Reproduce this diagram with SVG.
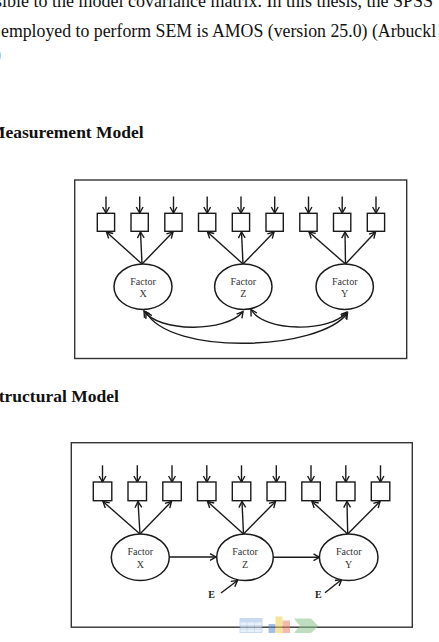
<svg xmlns="http://www.w3.org/2000/svg" width="439" height="642" viewBox="0 0 439 642">
<style>
.body{font-family:"Liberation Serif","Times New Roman",serif;font-size:17.8px;fill:#111}
.head{font-family:"Liberation Serif","Times New Roman",serif;font-size:17.5px;font-weight:bold;fill:#111}
.frame{fill:#fff;stroke:#333;stroke-width:1.4}
.sq{fill:#fff;stroke:#1a1a1a;stroke-width:1.4}
.el{fill:#fff;stroke:#1a1a1a;stroke-width:1.5}
.lbl{font-family:"Liberation Serif","Times New Roman",serif;font-size:10px;fill:#333;text-anchor:middle}
.e{font-family:"Liberation Serif","Times New Roman",serif;font-size:10px;font-weight:bold;fill:#222;text-anchor:middle}
.ar{fill:none;stroke:#1a1a1a;stroke-width:1.4;marker-end:url(#ah)}
.cv{fill:none;stroke:#1a1a1a;stroke-width:1.4;marker-end:url(#ah);marker-start:url(#ahs)}
</style>
<defs>
<marker id="ah" markerUnits="userSpaceOnUse" markerWidth="10" markerHeight="10" refX="7" refY="4" orient="auto">
<path d="M1,0.6 L7,4 L1,7.4" fill="none" stroke="#1a1a1a" stroke-width="1.4"/>
</marker>
<marker id="ahs" markerUnits="userSpaceOnUse" markerWidth="10" markerHeight="10" refX="1" refY="4" orient="auto">
<path d="M7,0.6 L1,4 L7,7.4" fill="none" stroke="#1a1a1a" stroke-width="1.4"/>
</marker>
</defs>
<rect width="439" height="642" fill="#fff"/>
<text class="body" x="-5" y="6.5" style="font-size:18px">sible to the model covariance matrix. In this thesis, the SPSS</text>
<text class="body" x="1" y="36.7">employed to perform SEM is AMOS (version 25.0) (Arbuckl</text>
<text class="body" x="-5" y="60">)</text>
<text class="head" x="-11" y="137.5">Measurement Model</text>
<text class="head" x="-11" y="401.7">Structural Model</text>

<g id="measurement-model">
<rect class="frame" x="74.7" y="180" width="332" height="178.5"/>
<g id="connectors-1">
<path class="ar" d="M106,196.5 V213"/>
<path class="ar" d="M139.7,196.5 V213"/>
<path class="ar" d="M173.5,196.5 V213"/>
<path class="ar" d="M207.2,196.5 V213"/>
<path class="ar" d="M241,196.5 V213"/>
<path class="ar" d="M274.7,196.5 V213"/>
<path class="ar" d="M308.5,196.5 V213"/>
<path class="ar" d="M342.2,196.5 V213"/>
<path class="ar" d="M376,196.5 V213"/>
<path class="ar" d="M142,264 L106.5,232"/>
<path class="ar" d="M142,264 L140.5,232"/>
<path class="ar" d="M142,264 L173,232"/>
<path class="ar" d="M243,264 L207.5,232"/>
<path class="ar" d="M243,264 L241.5,232"/>
<path class="ar" d="M243,264 L274,232"/>
<path class="ar" d="M345.5,264 L309,232"/>
<path class="ar" d="M345.5,264 L345,232"/>
<path class="ar" d="M345.5,264 L375.5,232"/>
<path class="cv" d="M144,311 C158,332 226,333 243,311.5"/>
<path class="cv" d="M146,312 C170,356 320,351 347.5,313"/>
<path class="cv" d="M251,309.5 C264,332 330,333 347,312"/>
</g>
<g id="m-ind">
<rect class="sq" x="97.3" y="213.3" width="17.3" height="18"/>
<rect class="sq" x="131" y="213.3" width="17.3" height="18"/>
<rect class="sq" x="164.8" y="213.3" width="17.3" height="18"/>
<rect class="sq" x="198.5" y="213.3" width="17.3" height="18"/>
<rect class="sq" x="232.3" y="213.3" width="17.3" height="18"/>
<rect class="sq" x="266" y="213.3" width="17.3" height="18"/>
<rect class="sq" x="299.8" y="213.3" width="17.3" height="18"/>
<rect class="sq" x="333.5" y="213.3" width="17.3" height="18"/>
<rect class="sq" x="367.3" y="213.3" width="17.3" height="18"/>
</g>
<g id="m-factor-x"><ellipse class="el" cx="143" cy="286.7" rx="29" ry="22.7"/><text class="lbl" x="143" y="284.5">Factor</text><text class="lbl" x="143" y="297.3">X</text></g>
<g id="m-factor-z"><ellipse class="el" cx="243.3" cy="286.7" rx="28.7" ry="22.7"/><text class="lbl" x="243.3" y="284.5">Factor</text><text class="lbl" x="243.3" y="297.3">Z</text></g>
<g id="m-factor-y"><ellipse class="el" cx="344.7" cy="286.7" rx="28.7" ry="22.7"/><text class="lbl" x="344.7" y="284.5">Factor</text><text class="lbl" x="344.7" y="297.3">Y</text></g>
</g>

<g id="structural-model">
<rect class="frame" x="71.3" y="442.7" width="341" height="184.5"/>
<g id="connectors-2">
<path class="ar" d="M102.5,465.3 V482"/>
<path class="ar" d="M137.3,465.3 V482"/>
<path class="ar" d="M172,465.3 V482"/>
<path class="ar" d="M206.8,465.3 V482"/>
<path class="ar" d="M241.5,465.3 V482"/>
<path class="ar" d="M276.3,465.3 V482"/>
<path class="ar" d="M311,465.3 V482"/>
<path class="ar" d="M345.8,465.3 V482"/>
<path class="ar" d="M380.5,465.3 V482"/>
<path class="ar" d="M140,534 L103,501.5"/>
<path class="ar" d="M140,534 L138,501.5"/>
<path class="ar" d="M140,534 L171.5,501.5"/>
<path class="ar" d="M243.5,534 L207.5,501.5"/>
<path class="ar" d="M243.5,534 L242,501.5"/>
<path class="ar" d="M243.5,534 L275.5,501.5"/>
<path class="ar" d="M347.7,534 L312,501.5"/>
<path class="ar" d="M347.7,534 L347,501.5"/>
<path class="ar" d="M347.7,534 L380,501.5"/>
<path class="ar" d="M169.3,557 H216"/>
<path class="ar" d="M273.5,557.3 H319.5"/>
<path class="ar" d="M221,593 L237.5,580.5"/>
<path class="ar" d="M325,592.7 L341.7,579.5"/>
</g>
<g id="s-ind">
<rect class="sq" x="93.3" y="482" width="18.5" height="18.7"/>
<rect class="sq" x="128" y="482" width="18.5" height="18.7"/>
<rect class="sq" x="162.8" y="482" width="18.5" height="18.7"/>
<rect class="sq" x="197.5" y="482" width="18.5" height="18.7"/>
<rect class="sq" x="232.3" y="482" width="18.5" height="18.7"/>
<rect class="sq" x="267" y="482" width="18.5" height="18.7"/>
<rect class="sq" x="301.8" y="482" width="18.5" height="18.7"/>
<rect class="sq" x="336.5" y="482" width="18.5" height="18.7"/>
<rect class="sq" x="371.3" y="482" width="18.5" height="18.7"/>
</g>
<g id="s-factor-x"><ellipse class="el" cx="140.3" cy="557.3" rx="29" ry="23.3"/><text class="lbl" x="140.3" y="555">Factor</text><text class="lbl" x="140.3" y="567.5">X</text></g>
<g id="s-factor-z"><ellipse class="el" cx="245" cy="557.3" rx="28.3" ry="23.3"/><text class="lbl" x="245" y="555">Factor</text><text class="lbl" x="245" y="567.5">Z</text></g>
<g id="s-factor-y"><ellipse class="el" cx="348.7" cy="557.3" rx="29.3" ry="23.3"/><text class="lbl" x="348.7" y="555">Factor</text><text class="lbl" x="348.7" y="567.5">Y</text></g>
<g id="e-z"><text class="e" x="211.7" y="598.3">E</text></g>
<g id="e-y"><text class="e" x="318.3" y="598.3">E</text></g>
</g>

<g id="icons" opacity="0.55">
<rect x="240" y="618.5" width="22" height="14" fill="#d6e4f5" stroke="#8fb0dc" stroke-width="0.8"/>
<path d="M240,622 H262 M240,625.5 H262 M240,629 H262 M247,622 V632.5 M254.5,622 V632.5" stroke="#8fb0dc" stroke-width="0.6"/>
<rect x="240" y="618.5" width="22" height="3.5" fill="#9cbbe6"/>
<rect x="268.5" y="624" width="7" height="9" fill="#5b8fd0"/>
<rect x="275.5" y="616.5" width="7" height="16.5" fill="#f2cf4a"/>
<rect x="282.5" y="620.5" width="7.5" height="12.5" fill="#e8826a"/>
<path d="M294,618.5 H311 L318.5,626 L311,633 H294 L300,626 Z" fill="#8cc48c"/>
</g>
</svg>
